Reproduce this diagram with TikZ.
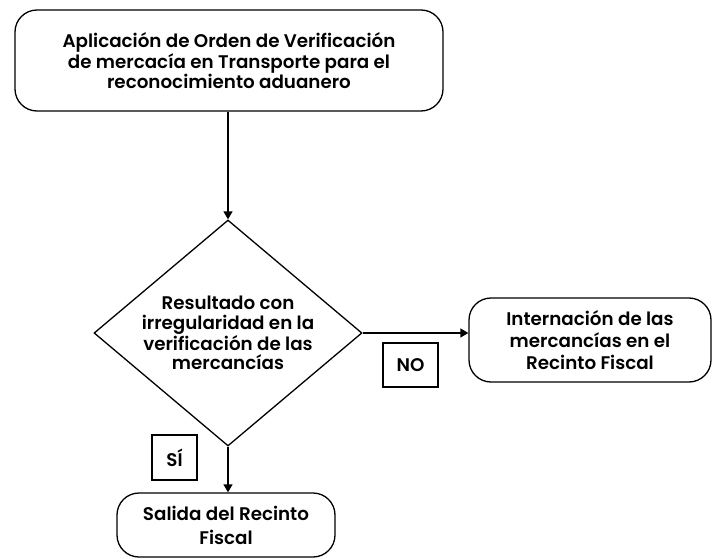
\documentclass[tikz,border=0pt]{standalone}
\usepackage{fontspec}
\setmainfont{Poppins}[BoldFont={Poppins SemiBold}]
\usetikzlibrary{shapes.geometric,arrows.meta}

\begin{document}
\begin{tikzpicture}[x=1pt, y=-1pt,
  font=\bfseries\fontsize{18.3}{19.5}\selectfont,
  caja/.style={draw, line width=1.3pt, rounded corners=22pt, align=center, inner sep=0pt},
  decision/.style={draw, diamond, line width=1.3pt, align=center, inner sep=0pt, aspect=1.19},
  etiqueta/.style={draw, line width=1.3pt, inner sep=0pt, align=center},
  flecha/.style={line width=1.3pt, -{Triangle[length=8pt, width=9pt]}}]
\useasboundingbox (0,0) rectangle (712,559);
\node[caja, minimum width=428pt, minimum height=101pt] (orden) at (229,60.5)
  {Aplicación de Orden de Verificación\\de mercacía en Transporte para el\\reconocimiento aduanero};
\node[decision, minimum width=268pt, minimum height=226pt] (resultado) at (228,333)
  {Resultado con\\irregularidad en la\\verificación de las\\mercancías};
\node[caja, minimum width=242pt, minimum height=84pt,
  font=\bfseries\fontsize{18.3}{22}\selectfont] (internacion) at (590,340)
  {Internación de las\\mercancías en el\\Recinto Fiscal};
\node[caja, minimum width=218pt, minimum height=64pt,
  font=\bfseries\fontsize{18.3}{24}\selectfont] (salida) at (226,525)
  {Salida del Recinto\\Fiscal};
\node[etiqueta, minimum width=55pt, minimum height=44pt] (no) at (410.5,365) {NO};
\node[etiqueta, minimum width=45pt, minimum height=45pt] (si) at (174.5,457.5) {SÍ};
% conectores
\draw[flecha] (orden.south -| resultado.north) -- (resultado.north);
\draw[flecha] (resultado.east) -- (resultado.east -| internacion.west);
\draw[flecha] (resultado.south) -- (resultado.south |- salida.north);
\end{tikzpicture}
\end{document}
